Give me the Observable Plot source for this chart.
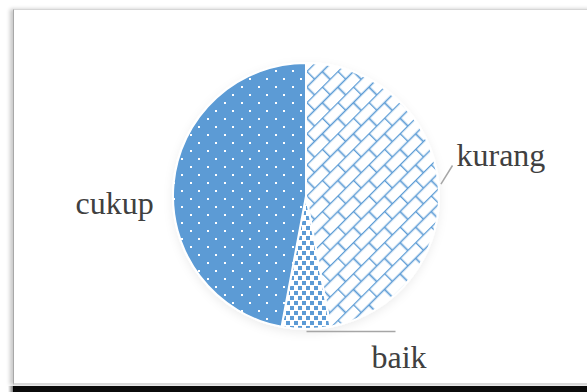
<!DOCTYPE html>
<html>
<head>
<meta charset="utf-8">
<script src="https://cdn.jsdelivr.net/npm/d3@7"></script>
<script src="https://cdn.jsdelivr.net/npm/@observablehq/plot@0.6"></script>
<style>
  html, body { margin: 0; padding: 0; background: #fff; }
  body { position: relative; width: 587px; height: 392px; overflow: hidden; }
  #band { position: absolute; left: 13px; top: 386px; width: 600px; height: 10px; background: #0b0b0b; }
  #bandshade { position: absolute; left: 8px; top: 386px; width: 6px; height: 10px;
               background: linear-gradient(to right, rgba(0,0,0,0), rgba(0,0,0,0.6)); }
  #panel { position: absolute; left: 13px; top: 9px; width: 600px; height: 373px; background: #fff;
           border-top: 1.5px solid #d6d6d6; border-bottom: 2px solid #d9d9d9; border-left: 1.5px solid #a8a8a8;
           box-shadow: -3px 0 4px rgba(0,0,0,0.22); }
  #chart { position: absolute; left: 0; top: 0; }
</style>
</head>
<body>
<div id="band"></div>
<div id="bandshade"></div>
<div id="panel"></div>
<div id="chart"></div>
<script>
// ---- data ----
const categories = ["kurang", "baik", "cukup"];
const values = [16, 2, 16];

// ---- layout (not data) ----
const W = 587, H = 392;
const cx = 306, cy = 196, R = 133;
const blue = "#5B9BD5";
const labelLayout = {
  kurang: {dx: 150, dy: -31, leader: {dx: -4, dy: 0}},
  cukup:  {dx: -231, dy: 17, leader: null},
  baik:   {dx: 65, dy: 171, leader: {dx: 24, dy: -36, horizontal: true}}
};

const data = categories.map((c, i) => ({category: c, value: values[i]}));
const arcs = d3.pie().sort(null).value(d => d.value)(data);
const arcGen = d3.arc().innerRadius(0).outerRadius(R);
const patternUrl = c => `url(#pat-${c})`;

const polar = (a, r) => [cx + r * Math.sin(a), cy - r * Math.cos(a)];

const labels = arcs.map(a => {
  const L = labelLayout[a.data.category];
  return {text: a.data.category, x: cx + L.dx, y: cy + L.dy};
});
const leaders = arcs.filter(a => labelLayout[a.data.category].leader).map(a => {
  const L = labelLayout[a.data.category];
  const mid = (a.startAngle + a.endAngle) / 2;
  const [x1, y1] = polar(mid, R + 2);
  const x2 = cx + L.dx + L.leader.dx;
  const y2 = L.leader.horizontal ? y1 : cy + L.dy + L.leader.dy;
  return {x1, y1, x2, y2};
});

function pieMark(index, scales, values, dims, context) {
  const fillOf = scales.color ? (c => scales.color(c)) : patternUrl;
  const g = d3.create("svg:g");
  const defs = g.append("defs");
  // kurang: diagonal brick
  const pb = defs.append("pattern").attr("id", "pat-kurang").attr("patternUnits", "userSpaceOnUse")
    .attr("width", 22).attr("height", 22).attr("patternTransform", "rotate(-45)");
  pb.append("rect").attr("width", 22).attr("height", 22).attr("fill", "#fff");
  pb.append("path").attr("d", "M0,0.5H22M0,11.5H22M0.5,0V11.5M11.5,11.5V22")
    .attr("stroke", blue).attr("stroke-width", 1.7).attr("fill", "none");
  // baik: checker squares
  const pc = defs.append("pattern").attr("id", "pat-baik").attr("patternUnits", "userSpaceOnUse")
    .attr("width", 8).attr("height", 10);
  pc.append("rect").attr("width", 8).attr("height", 10).attr("fill", "#fff");
  pc.append("rect").attr("x", 0).attr("y", 0).attr("width", 4).attr("height", 4).attr("fill", blue);
  pc.append("rect").attr("x", 4).attr("y", 5).attr("width", 4).attr("height", 4).attr("fill", blue);
  // cukup: blue with white dots
  const pd = defs.append("pattern").attr("id", "pat-cukup").attr("patternUnits", "userSpaceOnUse")
    .attr("width", 17).attr("height", 16);
  pd.append("rect").attr("width", 17).attr("height", 16).attr("fill", blue);
  pd.append("rect").attr("x", 3).attr("y", 2).attr("width", 2).attr("height", 2).attr("fill", "#fff");
  pd.append("rect").attr("x", 11).attr("y", 10).attr("width", 2).attr("height", 2).attr("fill", "#fff");
  // soft shadow
  const f = defs.append("filter").attr("id", "pie-shadow").attr("x", "-20%").attr("y", "-20%")
    .attr("width", "140%").attr("height", "140%");
  f.append("feDropShadow").attr("dx", 0).attr("dy", 3).attr("stdDeviation", 5)
    .attr("flood-color", "#000").attr("flood-opacity", 0.07);

  g.append("g").attr("transform", `translate(${cx},${cy})`).attr("filter", "url(#pie-shadow)")
    .selectAll("path").data(arcs).join("path")
    .attr("d", arcGen)
    .attr("fill", d => fillOf(d.data.category))
    .attr("stroke", "#fff").attr("stroke-width", 2).attr("stroke-linejoin", "round");
  return g.node();
}

const chart = Plot.plot({
  width: W, height: H, margin: 0,
  style: {background: "transparent", overflow: "visible"},
  x: {type: "identity", axis: null},
  y: {type: "identity", axis: null},
  color: {type: "ordinal", domain: categories, range: categories.map(patternUrl)},
  marks: [
    pieMark,
    Plot.link(leaders, {x1: "x1", y1: "y1", x2: "x2", y2: "y2", stroke: "#a6a6a6", strokeWidth: 1.5}),
    Plot.text(labels, {x: "x", y: "y", text: "text", textAnchor: "start", lineAnchor: "bottom",
      fontSize: 32, fontFamily: "Liberation Serif", fill: "#404040"})
  ]
});
document.getElementById("chart").appendChild(chart);
</script>
</body>
</html>
